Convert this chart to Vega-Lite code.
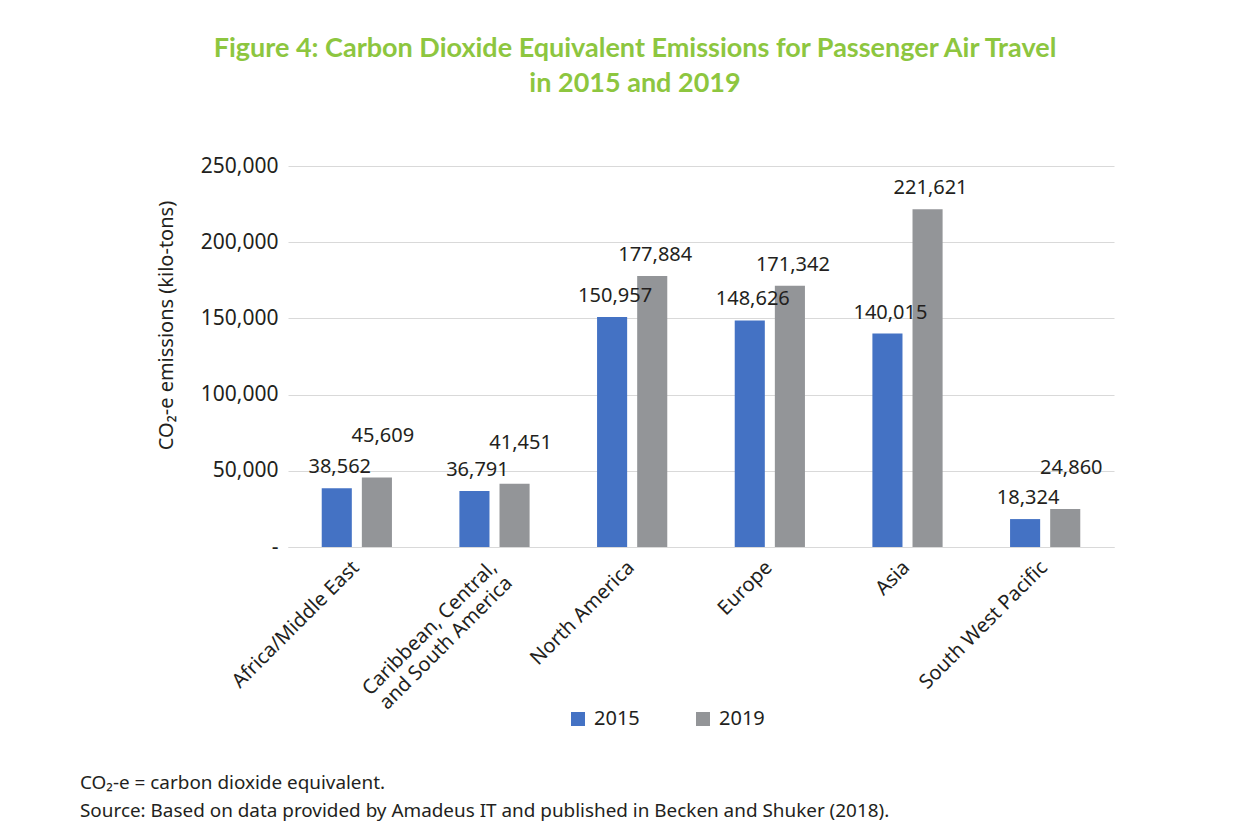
{
  "$schema": "https://vega.github.io/schema/vega-lite/v6.json",
  "background": "white",
  "padding": {"left": 79, "top": 35, "right": 100, "bottom": 10},
  "config": {"font": "Noto Sans", "view": {"stroke": null}},
  "title": {
    "text": ["CO₂-e = carbon dioxide equivalent.", "Source: Based on data provided by Amadeus IT and published in Becken and Shuker (2018)."],
    "orient": "bottom", "anchor": "start", "frame": "bounds",
    "font": "Noto Sans", "fontSize": 18.9, "fontWeight": "normal", "color": "#231f20",
    "lineHeight": 28, "offset": 45, "dx": -76
  },
  "vconcat": [
    {
      "title": {
        "text": ["Figure 4: Carbon Dioxide Equivalent Emissions for Passenger Air Travel", "in 2015 and 2019"],
        "font": "Lato", "fontSize": 27, "fontWeight": "bold", "color": "#8DC63F",
        "lineHeight": 35, "anchor": "middle", "frame": "bounds", "offset": 57
      },
      "width": 826,
      "height": 381,
      "data": {"values": [
        {"region": "Africa/Middle East", "year": "2015", "value": 38562},
        {"region": "Africa/Middle East", "year": "2019", "value": 45609},
        {"region": "Caribbean, Central, and South America", "year": "2015", "value": 36791},
        {"region": "Caribbean, Central, and South America", "year": "2019", "value": 41451},
        {"region": "North America", "year": "2015", "value": 150957},
        {"region": "North America", "year": "2019", "value": 177884},
        {"region": "Europe", "year": "2015", "value": 148626},
        {"region": "Europe", "year": "2019", "value": 171342},
        {"region": "Asia", "year": "2015", "value": 140015},
        {"region": "Asia", "year": "2019", "value": 221621},
        {"region": "South West Pacific", "year": "2015", "value": 18324},
        {"region": "South West Pacific", "year": "2019", "value": 24860}
      ]},
      "transform": [
        {"joinaggregate": [{"op": "min", "field": "value", "as": "grpmin"}], "groupby": ["region"]}
      ],
      "encoding": {
        "x": {
          "field": "region", "type": "nominal", "sort": null,
          "scale": {"paddingInner": 0.49, "paddingOuter": 0.245},
          "axis": {
            "title": null, "labelAngle": -45, "labelAlign": "right", "labelBaseline": "top",
            "labelFontSize": 20, "labelColor": "#231f20", "labelPadding": 10, "labelOffset": -8,
            "labelLineHeight": 22, "labelLimit": 400,
            "ticks": false, "domain": true, "domainColor": "#d9d9d9", "domainWidth": 1,
            "labelExpr": "datum.label == 'Caribbean, Central, and South America' ? ['Caribbean, Central,', 'and South America'] : datum.label"
          }
        },
        "xOffset": {"field": "year", "type": "nominal", "scale": {"paddingInner": 0.25, "paddingOuter": 0}},
        "y": {
          "field": "value", "type": "quantitative",
          "scale": {"domain": [0, 250000], "nice": false},
          "axis": {
            "title": "CO₂-e emissions (kilo-tons)", "titleFontSize": 20, "titleFontWeight": "normal",
            "titleColor": "#231f20", "titleX": -112, "titleY": 159,
            "values": [0, 50000, 100000, 150000, 200000, 250000],
            "labelExpr": "datum.value == 0 ? '-' : format(datum.value, ',')",
            "labelFontSize": 21, "labelColor": "#231f20", "labelPadding": 10,
            "ticks": false, "domain": false, "grid": true, "gridColor": "#d9d9d9", "gridWidth": 1
          }
        }
      },
      "layer": [
        {
          "mark": {"type": "bar"},
          "encoding": {
            "color": {
              "field": "year", "type": "nominal",
              "scale": {"domain": ["2015", "2019"], "range": ["#4472C4", "#939598"]},
              "legend": {
                "title": null, "orient": "none", "direction": "horizontal",
                "legendX": 280, "legendY": 543,
                "symbolType": "square", "symbolSize": 196, "symbolStrokeWidth": 0,
                "labelFontSize": 20, "labelColor": "#231f20", "labelOffset": 6, "columnPadding": 53
              }
            }
          }
        },
        {
          "transform": [{"filter": "!(datum.year == '2019' && datum.value - datum.grpmin < 20000)"}],
          "mark": {"type": "text", "baseline": "alphabetic", "dy": -15, "dx": 3, "fontSize": 20, "color": "#231f20"},
          "encoding": {"text": {"field": "value", "type": "quantitative", "format": ","}}
        },
        {
          "transform": [{"filter": "datum.year == '2019' && datum.value - datum.grpmin < 20000"}],
          "mark": {"type": "text", "baseline": "alphabetic", "dy": -35, "dx": 6, "fontSize": 20, "color": "#231f20"},
          "encoding": {"text": {"field": "value", "type": "quantitative", "format": ","}}
        }
      ]
    }
  ]
}
